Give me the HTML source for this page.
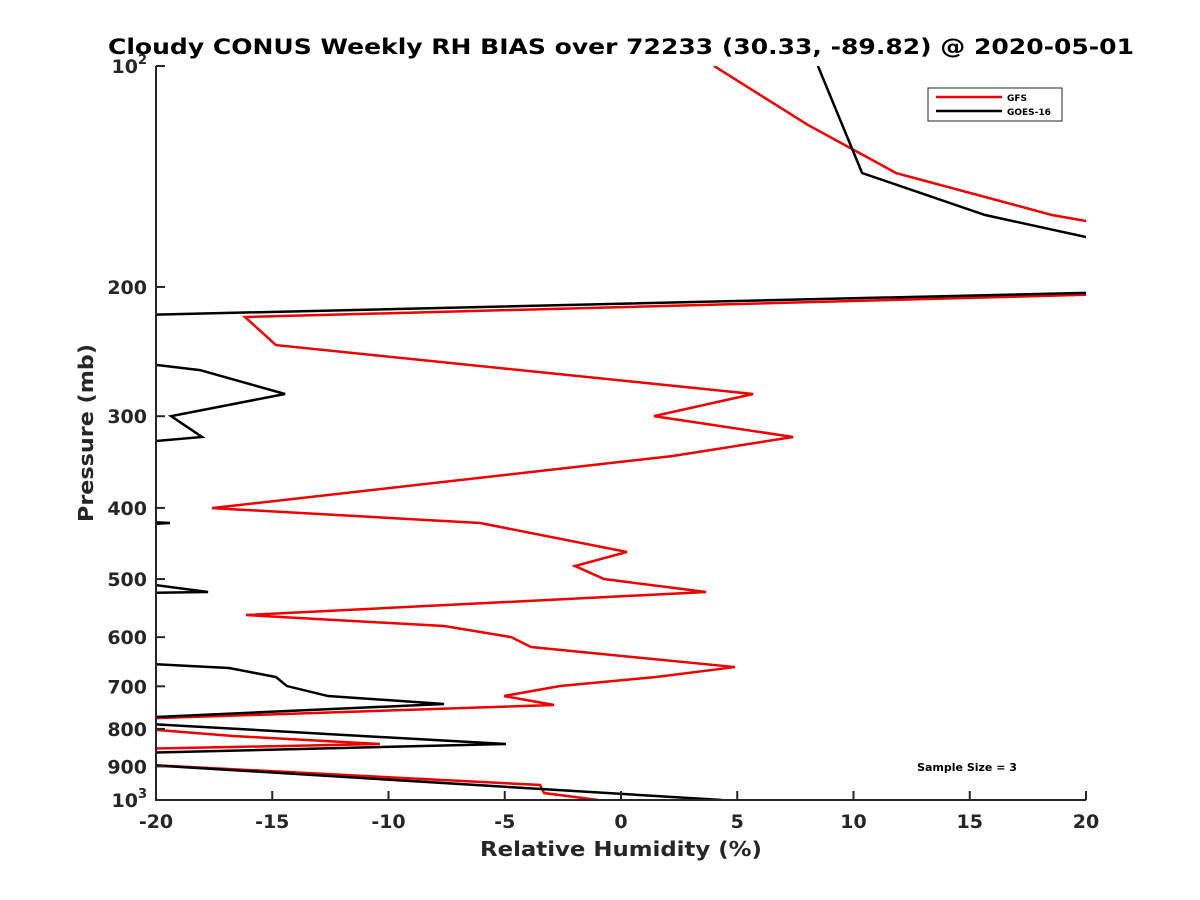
<!DOCTYPE html>
<html><head><meta charset="utf-8"><style>
body{margin:0;background:#fff;}
svg{display:block;font-family:"DejaVu Sans","Liberation Sans",sans-serif;}
</style></head><body>
<svg id="chart" width="1200" height="900" viewBox="0 0 1200 900">
<rect width="1200" height="900" fill="#fff"/>
<text x="621" y="54" text-anchor="middle" font-size="21" font-weight="bold" fill="#000" textLength="1026" lengthAdjust="spacingAndGlyphs">Cloudy CONUS Weekly RH BIAS over 72233 (30.33, -89.82) @ 2020-05-01</text>
<defs><clipPath id="plotclip"><rect x="156" y="66" width="930" height="734"/></clipPath></defs>
<g id="series" clip-path="url(#plotclip)"></g>
<g id="axes"></g>
<text x="621" y="856" text-anchor="middle" font-size="20" font-weight="bold" fill="#262626" textLength="282" lengthAdjust="spacingAndGlyphs">Relative Humidity (%)</text>
<text transform="translate(93,433) rotate(-90)" text-anchor="middle" font-size="20" font-weight="bold" fill="#262626" textLength="178" lengthAdjust="spacingAndGlyphs">Pressure (mb)</text>
<g>
<rect x="928" y="88" width="134" height="33" fill="#fff" stroke="#262626" stroke-width="1"/>
<line x1="936" y1="97" x2="1002" y2="97" stroke="#e00" stroke-width="2.5"/>
<text x="1007" y="101" font-size="9" font-weight="bold" fill="#000">GFS</text>
<line x1="936" y1="111" x2="1002" y2="111" stroke="#000" stroke-width="2.5"/>
<text x="1007" y="115" font-size="9" font-weight="bold" fill="#000">GOES-16</text>
</g>
<text x="967" y="771" text-anchor="middle" font-size="11" font-weight="bold" fill="#000">Sample Size = 3</text>
</svg>
<script>
const xTicks=[-20,-15,-10,-5,0,5,10,15,20];
const yTicks=[100,200,300,400,500,600,700,800,900,1000];
const gfsRH=[4.0,8.04,11.83,18.54,20,25,-16.17,-14.84,5.68,1.42,7.40,2.19,-17.59,-6.06,0.26,-1.98,-0.73,3.66,-16.13,-7.61,-4.73,-3.87,4.90,1.51,-2.62,-5.03,-2.88,-21,-21,-16.69,-10.37,-21,-21,-3.48,-3.31,-0.99];
const gfsP=[100,120.3,139.9,159.6,162.6,203,219.8,240.0,279.8,299.9,320.2,340.0,400.2,419.4,459.3,480.0,500.0,520.8,559.8,579.4,599.8,618.8,659.0,679.9,699.4,721.7,742.3,775.5,797.9,818.2,839.0,852.2,893.3,954.1,978.4,1000];
const goesRH=[8.47,10.37,15.66,20,25,-21,-21,-18.11,-14.45,-19.35,-18.02,-21,-21,-19.4,-21,-21,-17.76,-21,-21,-16.86,-14.84,-14.37,-12.60,-7.61,-21,-21,-4.95,-21,-21,4.34];
const goesP=[100,139.9,159.6,171.0,202,218.5,253.2,259.6,279.8,299.9,320.2,326.3,416.8,419.4,422.0,504.7,520.8,522.4,650.7,661.0,679.9,699.4,721.7,740.0,773.2,785.5,839.0,863.0,893.3,1000];
const X0=156,X1=1086,Y0=66,Y1=800;
const xs=v=>X0+(v+20)/40*(X1-X0);
const ys=p=>Y0+(Math.log10(p)-2)*(Y1-Y0);
const NS="http://www.w3.org/2000/svg";
function mk(tag,attrs,parent){const e=document.createElementNS(NS,tag);for(const k in attrs)e.setAttribute(k,attrs[k]);parent.appendChild(e);return e;}
const series=document.getElementById('series'),axes=document.getElementById('axes');
const gl=mk('polyline',{points:gfsRH.map((v,i)=>xs(v)+','+ys(gfsP[i])).join(' '),fill:'none',stroke:'#e00','stroke-width':2.5,'stroke-linejoin':'miter'},series);


const bl=mk('polyline',{points:goesRH.map((v,i)=>xs(v)+','+ys(goesP[i])).join(' '),fill:'none',stroke:'#000','stroke-width':2.5,'stroke-linejoin':'miter'},series);


const ax=mk('path',{d:`M${X0},${Y0}V${Y1}H${X1}`,fill:'none',stroke:'#262626','stroke-width':2},axes);


xTicks.forEach(v=>{
  mk('line',{x1:xs(v),x2:xs(v),y1:Y1,y2:Y1-9,stroke:'#262626','stroke-width':2},axes);
  const t=mk('text',{x:xs(v),y:Y1+28,'text-anchor':'middle','font-size':19,'font-weight':'bold',fill:'#262626'},axes);
  t.textContent=String(v);
  
  
});
yTicks.forEach(p=>{
  const y=ys(p);
  mk('line',{x1:X0,x2:X0+9,y1:y,y2:y,stroke:'#262626','stroke-width':2},axes);
  const t=mk('text',{x:X0-9,y:y+7,'text-anchor':'end','font-size':19,'font-weight':'bold',fill:'#262626'},axes);
  if(p===100||p===1000){
    t.textContent='10';
    const s=mk('tspan',{dy:-9,'font-size':13},t);
    s.textContent=p===100?'2':'3';
  } else t.textContent=String(p);
  
  
});
</script>
</body></html>
